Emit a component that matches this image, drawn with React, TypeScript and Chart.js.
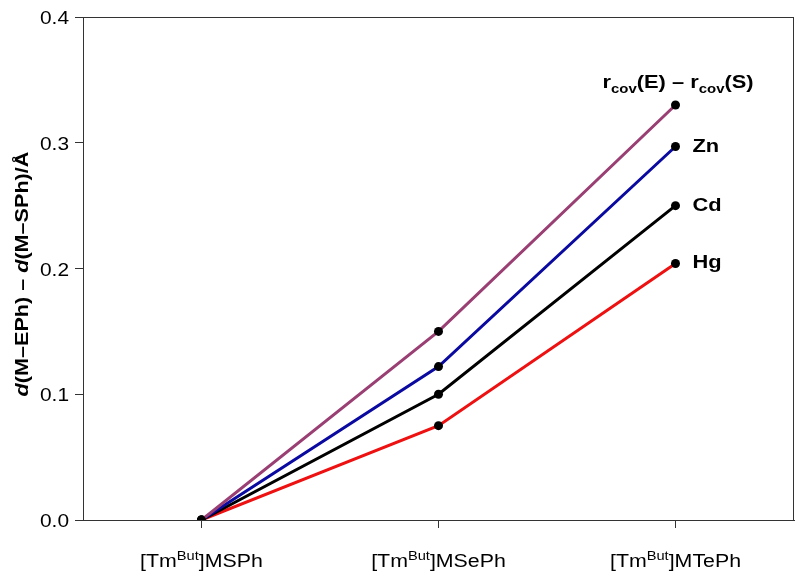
import React, { useEffect, useRef } from 'react';
import { Chart, registerables } from 'chart.js';

Chart.register(...registerables);

const categories = ['MSPh', 'MSePh', 'MTePh'];
const rcovDiff = [0, 0.150, 0.330];
const znValues = [0, 0.122, 0.297];
const cdValues = [0, 0.100, 0.250];
const hgValues = [0, 0.075, 0.204];
const yTickValues = [0, 0.1, 0.2, 0.3, 0.4];
const seriesNames = ['Zn', 'Cd', 'Hg'];

type Seg = { t: string; italic?: boolean; sup?: boolean; sub?: boolean };

const FAM = '"Liberation Sans", Arial, Helvetica, sans-serif';

function drawRich(
  ctx: CanvasRenderingContext2D,
  segs: Seg[],
  x: number,
  y: number,
  size: number,
  bold: boolean,
  align: 'center' | 'left' | 'right',
  sx: number
) {
  const font = (s: Seg) =>
    `${s.italic ? 'italic ' : ''}${bold ? 'bold ' : ''}${s.sup || s.sub ? Math.round(size * 0.68) : size}px ${FAM}`;
  let total = 0;
  for (const s of segs) {
    ctx.font = font(s);
    total += ctx.measureText(s.t).width;
  }
  ctx.save();
  ctx.translate(x, y);
  ctx.scale(sx, 1);
  let cx = align === 'center' ? -total / 2 : align === 'right' ? -total : 0;
  ctx.textAlign = 'left';
  ctx.textBaseline = 'alphabetic';
  for (const s of segs) {
    ctx.font = font(s);
    const dy = s.sup ? -size * 0.42 : s.sub ? size * 0.28 : 0;
    ctx.fillText(s.t, cx, dy);
    cx += ctx.measureText(s.t).width;
  }
  ctx.restore();
}

const annotatePlugin = {
  id: 'annotate',
  afterDraw(chart: any) {
    const ctx: CanvasRenderingContext2D = chart.ctx;
    const area = chart.chartArea;
    const xs = chart.scales.x;
    const ys = chart.scales.y;
    ctx.save();
    // frame
    ctx.strokeStyle = '#333';
    ctx.lineWidth = 1;
    ctx.strokeRect(area.left + 0.5, area.top + 0.5, area.right - area.left - 1, area.bottom - area.top);
    ctx.fillStyle = '#000';
    // y tick labels
    yTickValues.forEach((v) => {
      drawRich(ctx, [{ t: v.toFixed(1) }], area.left - 14, ys.getPixelForValue(v) + 7, 19, false, 'right', 1.1);
    });
    // category labels
    categories.forEach((c, i) => {
      const px = xs.getPixelForValue(i);
      drawRich(ctx, [{ t: '[Tm' }, { t: 'Bu', sup: true }, { t: 't', sup: true }, { t: ']' + c }], px, area.bottom + 47, 17.5, false, 'center', 1.22);
    });
    // series labels
    const lastIdx = categories.length - 1;
    const px = xs.getPixelForValue(lastIdx);
    drawRich(
      ctx,
      [{ t: 'r' }, { t: 'cov', sub: true }, { t: '(E) \u2013 r' }, { t: 'cov', sub: true }, { t: '(S)' }],
      px - 73,
      ys.getPixelForValue(rcovDiff[lastIdx]) - 17,
      19,
      true,
      'left',
      1.15
    );
    const vals = [znValues, cdValues, hgValues];
    seriesNames.forEach((n, i) => {
      drawRich(ctx, [{ t: n }], px + 17, ys.getPixelForValue(vals[i][lastIdx]) + 5, 19, true, 'left', 1.15);
    });
    // y title
    ctx.translate(22, 274);
    ctx.rotate(-Math.PI / 2);
    drawRich(
      ctx,
      [{ t: 'd', italic: true }, { t: '(M\u2013EPh) \u2013 ' }, { t: 'd', italic: true }, { t: '(M\u2013SPh)/\u00C5' }],
      0,
      6,
      18,
      true,
      'center',
      1.2
    );
    ctx.restore();
  },
};

export default function App() {
  const ref = useRef<HTMLCanvasElement>(null);
  useEffect(() => {
    if (!ref.current) return;
    const mk = (label: string, data: number[], color: string) => ({
      label,
      data,
      borderColor: color,
      backgroundColor: '#000',
      pointBackgroundColor: '#000',
      pointBorderColor: '#000',
      borderWidth: 3,
      pointRadius: 4.5,
      pointBorderWidth: 0,
      tension: 0,
    });
    const chart = new Chart(ref.current, {
      type: 'line',
      data: {
        labels: categories,
        datasets: [
          mk('rcov(E) - rcov(S)', rcovDiff, '#9a3f73'),
          mk('Zn', znValues, '#0a0aa0'),
          mk('Cd', cdValues, '#000000'),
          mk('Hg', hgValues, '#ee1111'),
        ],
      },
      options: {
        responsive: false,
        animation: false,
        events: [],
        layout: { padding: { top: 17, right: 6, left: 0, bottom: 0 } },
        plugins: { legend: { display: false }, tooltip: { enabled: false } },
        scales: {
          x: {
            type: 'category',
            offset: true,
            grid: { display: true, drawOnChartArea: false, drawTicks: true, tickLength: 8, color: '#333', offset: false },
            border: { display: true, color: '#333', width: 1 },
            ticks: { callback: () => '', padding: 0 },
            afterFit: (s: any) => {
              s.height = 59;
            },
          },
          y: {
            type: 'linear',
            min: 0,
            max: 0.4,
            afterBuildTicks: (s: any) => {
              s.ticks = yTickValues.map((v) => ({ value: v }));
            },
            grid: { display: true, drawOnChartArea: false, drawTicks: true, tickLength: 8, color: '#333' },
            border: { display: true, color: '#333', width: 1 },
            ticks: {
              callback: () => '',
              padding: 0,
            },
            afterFit: (s: any) => {
              s.width = 83;
            },
          },
        },
      },
      plugins: [annotatePlugin],
    });
    return () => chart.destroy();
  }, []);
  return (
    <div style={{ position: 'fixed', left: 0, top: 0, width: 800, height: 579, background: '#fff' }}>
      <canvas ref={ref} width={800} height={579} style={{ width: 800, height: 579, display: 'block' }} />
    </div>
  );
}
